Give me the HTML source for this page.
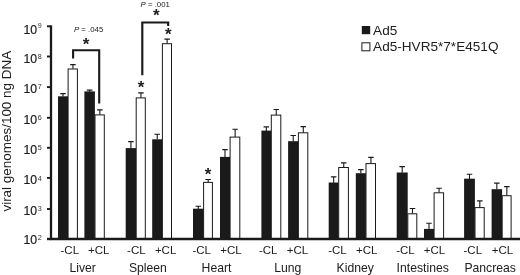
<!DOCTYPE html><html><head><meta charset="utf-8"><style>
html,body{margin:0;padding:0;background:#fff;}svg{display:block;filter:grayscale(1);}text{font-family:"Liberation Sans",sans-serif;fill:#202020;}
</style></head><body>
<svg width="520" height="275" viewBox="0 0 520 275">
<rect width="520" height="275" fill="#fff"/>
<rect x="58.00" y="96.30" width="10.00" height="142.70" fill="#1a1a1a"/>
<path d="M63.00 96.60V93.60M60.25 93.60H65.75" stroke="#1a1a1a" stroke-width="1.1" fill="none"/>
<rect x="68.10" y="69.00" width="9.30" height="170.50" fill="#fff" stroke="#1a1a1a" stroke-width="1"/>
<path d="M72.95 68.80V64.60M70.20 64.60H75.70" stroke="#1a1a1a" stroke-width="1.1" fill="none"/>
<rect x="84.40" y="91.40" width="10.50" height="147.60" fill="#1a1a1a"/>
<path d="M89.65 91.70V90.10M86.90 90.10H92.40" stroke="#1a1a1a" stroke-width="1.1" fill="none"/>
<rect x="95.00" y="114.90" width="9.30" height="124.60" fill="#fff" stroke="#1a1a1a" stroke-width="1"/>
<path d="M99.85 114.70V109.90M97.10 109.90H102.60" stroke="#1a1a1a" stroke-width="1.1" fill="none"/>
<rect x="125.70" y="148.10" width="10.40" height="90.90" fill="#1a1a1a"/>
<path d="M130.90 148.40V141.60M128.15 141.60H133.65" stroke="#1a1a1a" stroke-width="1.1" fill="none"/>
<rect x="136.20" y="97.90" width="9.10" height="141.60" fill="#fff" stroke="#1a1a1a" stroke-width="1"/>
<path d="M140.95 97.70V92.90M138.20 92.90H143.70" stroke="#1a1a1a" stroke-width="1.1" fill="none"/>
<rect x="152.20" y="139.30" width="10.10" height="99.70" fill="#1a1a1a"/>
<path d="M157.25 139.60V134.30M154.50 134.30H160.00" stroke="#1a1a1a" stroke-width="1.1" fill="none"/>
<rect x="162.40" y="43.70" width="9.10" height="195.80" fill="#fff" stroke="#1a1a1a" stroke-width="1"/>
<path d="M167.15 43.50V39.10M164.40 39.10H169.90" stroke="#1a1a1a" stroke-width="1.1" fill="none"/>
<rect x="193.00" y="208.70" width="10.50" height="30.30" fill="#1a1a1a"/>
<path d="M198.25 209.00V206.20M195.50 206.20H201.00" stroke="#1a1a1a" stroke-width="1.1" fill="none"/>
<rect x="203.60" y="182.40" width="8.80" height="57.10" fill="#fff" stroke="#1a1a1a" stroke-width="1"/>
<path d="M208.20 182.20V179.50M205.45 179.50H210.95" stroke="#1a1a1a" stroke-width="1.1" fill="none"/>
<rect x="220.00" y="156.90" width="10.00" height="82.10" fill="#1a1a1a"/>
<path d="M225.00 157.20V149.60M222.25 149.60H227.75" stroke="#1a1a1a" stroke-width="1.1" fill="none"/>
<rect x="230.10" y="137.10" width="9.70" height="102.40" fill="#fff" stroke="#1a1a1a" stroke-width="1"/>
<path d="M235.15 136.90V129.30M232.40 129.30H237.90" stroke="#1a1a1a" stroke-width="1.1" fill="none"/>
<rect x="261.40" y="130.60" width="9.80" height="108.40" fill="#1a1a1a"/>
<path d="M266.30 130.90V126.90M263.55 126.90H269.05" stroke="#1a1a1a" stroke-width="1.1" fill="none"/>
<rect x="271.30" y="115.10" width="9.50" height="124.40" fill="#fff" stroke="#1a1a1a" stroke-width="1"/>
<path d="M276.25 114.90V109.50M273.50 109.50H279.00" stroke="#1a1a1a" stroke-width="1.1" fill="none"/>
<rect x="288.10" y="141.20" width="10.20" height="97.80" fill="#1a1a1a"/>
<path d="M293.20 141.50V135.50M290.45 135.50H295.95" stroke="#1a1a1a" stroke-width="1.1" fill="none"/>
<rect x="298.40" y="132.80" width="9.40" height="106.70" fill="#fff" stroke="#1a1a1a" stroke-width="1"/>
<path d="M303.30 132.60V126.60M300.55 126.60H306.05" stroke="#1a1a1a" stroke-width="1.1" fill="none"/>
<rect x="328.70" y="182.50" width="9.90" height="56.50" fill="#1a1a1a"/>
<path d="M333.65 182.80V176.90M330.90 176.90H336.40" stroke="#1a1a1a" stroke-width="1.1" fill="none"/>
<rect x="338.70" y="167.50" width="9.70" height="72.00" fill="#fff" stroke="#1a1a1a" stroke-width="1"/>
<path d="M343.75 167.30V162.90M341.00 162.90H346.50" stroke="#1a1a1a" stroke-width="1.1" fill="none"/>
<rect x="355.80" y="173.20" width="10.10" height="65.80" fill="#1a1a1a"/>
<path d="M360.85 173.50V169.60M358.10 169.60H363.60" stroke="#1a1a1a" stroke-width="1.1" fill="none"/>
<rect x="366.00" y="163.60" width="9.50" height="75.90" fill="#fff" stroke="#1a1a1a" stroke-width="1"/>
<path d="M370.95 163.40V157.40M368.20 157.40H373.70" stroke="#1a1a1a" stroke-width="1.1" fill="none"/>
<rect x="396.70" y="172.50" width="11.00" height="66.50" fill="#1a1a1a"/>
<path d="M402.20 172.80V166.60M399.45 166.60H404.95" stroke="#1a1a1a" stroke-width="1.1" fill="none"/>
<rect x="407.80" y="213.80" width="9.00" height="25.70" fill="#fff" stroke="#1a1a1a" stroke-width="1"/>
<path d="M412.50 213.60V208.50M409.75 208.50H415.25" stroke="#1a1a1a" stroke-width="1.1" fill="none"/>
<rect x="424.00" y="228.90" width="10.00" height="10.10" fill="#1a1a1a"/>
<path d="M429.00 229.20V223.20M426.25 223.20H431.75" stroke="#1a1a1a" stroke-width="1.1" fill="none"/>
<rect x="434.10" y="192.80" width="9.50" height="46.70" fill="#fff" stroke="#1a1a1a" stroke-width="1"/>
<path d="M439.05 192.60V188.30M436.30 188.30H441.80" stroke="#1a1a1a" stroke-width="1.1" fill="none"/>
<rect x="464.10" y="178.70" width="10.80" height="60.30" fill="#1a1a1a"/>
<path d="M469.50 179.00V174.20M466.75 174.20H472.25" stroke="#1a1a1a" stroke-width="1.1" fill="none"/>
<rect x="475.00" y="207.60" width="9.20" height="31.90" fill="#fff" stroke="#1a1a1a" stroke-width="1"/>
<path d="M479.80 207.40V200.90M477.05 200.90H482.55" stroke="#1a1a1a" stroke-width="1.1" fill="none"/>
<rect x="491.60" y="189.20" width="10.50" height="49.80" fill="#1a1a1a"/>
<path d="M496.85 189.50V183.10M494.10 183.10H499.60" stroke="#1a1a1a" stroke-width="1.1" fill="none"/>
<rect x="502.20" y="195.70" width="8.90" height="43.80" fill="#fff" stroke="#1a1a1a" stroke-width="1"/>
<path d="M506.85 195.50V186.60M504.10 186.60H509.60" stroke="#1a1a1a" stroke-width="1.1" fill="none"/>
<path d="M51.0 25.4V240" stroke="#1a1a1a" stroke-width="2.3" fill="none"/>
<path d="M49.9 239.0H520" stroke="#1a1a1a" stroke-width="2.4" fill="none"/>
<path d="M47.0 26.30H51" stroke="#1a1a1a" stroke-width="1.9"/>
<text transform="translate(23.5,34.00) scale(0.895,1)" font-size="13.7" stroke="#1a1a1a" stroke-width="0.2">10<tspan dx="0.7" dy="-5.70" font-size="8.0" fill="#333" stroke="none">9</tspan></text>
<path d="M47.0 56.50H51" stroke="#1a1a1a" stroke-width="1.9"/>
<text transform="translate(23.5,63.40) scale(0.895,1)" font-size="13.7" stroke="#1a1a1a" stroke-width="0.2">10<tspan dx="0.7" dy="-4.50" font-size="8.0" fill="#333" stroke="none">8</tspan></text>
<path d="M47.0 87.10H51" stroke="#1a1a1a" stroke-width="1.9"/>
<text transform="translate(23.5,93.40) scale(0.895,1)" font-size="13.7" stroke="#1a1a1a" stroke-width="0.2">10<tspan dx="0.7" dy="-4.90" font-size="8.0" fill="#333" stroke="none">7</tspan></text>
<path d="M47.0 117.80H51" stroke="#1a1a1a" stroke-width="1.9"/>
<text transform="translate(23.5,124.00) scale(0.895,1)" font-size="13.7" stroke="#1a1a1a" stroke-width="0.2">10<tspan dx="0.7" dy="-3.90" font-size="8.0" fill="#333" stroke="none">6</tspan></text>
<path d="M47.0 147.80H51" stroke="#1a1a1a" stroke-width="1.9"/>
<text transform="translate(23.5,154.30) scale(0.895,1)" font-size="13.7" stroke="#1a1a1a" stroke-width="0.2">10<tspan dx="0.7" dy="-4.30" font-size="8.0" fill="#333" stroke="none">5</tspan></text>
<path d="M47.0 177.90H51" stroke="#1a1a1a" stroke-width="1.9"/>
<text transform="translate(23.5,184.30) scale(0.895,1)" font-size="13.7" stroke="#1a1a1a" stroke-width="0.2">10<tspan dx="0.7" dy="-3.30" font-size="8.0" fill="#333" stroke="none">4</tspan></text>
<path d="M47.0 209.00H51" stroke="#1a1a1a" stroke-width="1.9"/>
<text transform="translate(23.5,215.10) scale(0.895,1)" font-size="13.7" stroke="#1a1a1a" stroke-width="0.2">10<tspan dx="0.7" dy="-3.70" font-size="8.0" fill="#333" stroke="none">3</tspan></text>
<path d="M47.0 239.00H51" stroke="#1a1a1a" stroke-width="2.4"/>
<text transform="translate(23.5,244.30) scale(0.895,1)" font-size="13.7" stroke="#1a1a1a" stroke-width="0.2">10<tspan dx="0.7" dy="-4.10" font-size="8.0" fill="#333" stroke="none">2</tspan></text>
<text transform="translate(10.7,131.2) rotate(-90) scale(1.044,1)" text-anchor="middle" font-size="12.9">viral genomes/100 ng DNA</text>
<text x="60.50" y="254.1" font-size="11.5">-CL</text>
<text x="88.00" y="254.1" font-size="11.5">+CL</text>
<text x="82.70" y="271.9" text-anchor="middle" font-size="12.2">Liver</text>
<text x="127.10" y="254.1" font-size="11.5">-CL</text>
<text x="154.90" y="254.1" font-size="11.5">+CL</text>
<text x="147.90" y="271.9" text-anchor="middle" font-size="12.2">Spleen</text>
<text x="192.40" y="254.1" font-size="11.5">-CL</text>
<text x="220.20" y="254.1" font-size="11.5">+CL</text>
<text x="216.50" y="271.9" text-anchor="middle" font-size="12.2">Heart</text>
<text x="258.90" y="254.1" font-size="11.5">-CL</text>
<text x="286.70" y="254.1" font-size="11.5">+CL</text>
<text x="287.80" y="271.9" text-anchor="middle" font-size="12.2">Lung</text>
<text x="328.20" y="254.1" font-size="11.5">-CL</text>
<text x="356.00" y="254.1" font-size="11.5">+CL</text>
<text x="355.25" y="271.9" text-anchor="middle" font-size="12.2">Kidney</text>
<text x="396.20" y="254.1" font-size="11.5">-CL</text>
<text x="423.70" y="254.1" font-size="11.5">+CL</text>
<text x="422.70" y="271.9" text-anchor="middle" font-size="12.2">Intestines</text>
<text x="463.50" y="254.1" font-size="11.5">-CL</text>
<text x="491.80" y="254.1" font-size="11.5">+CL</text>
<text x="490.20" y="271.9" text-anchor="middle" font-size="12.2">Pancreas</text>
<rect x="361.8" y="26.0" width="8.4" height="8.2" fill="#1a1a1a"/>
<rect x="361.9" y="42.8" width="8.0" height="8.0" fill="#fff" stroke="#1a1a1a" stroke-width="1"/>
<text transform="translate(373.1,34.9) scale(1.088,1)" font-size="12.5">Ad5</text>
<text transform="translate(373.1,51.3) scale(1.088,1)" font-size="12.5">Ad5-HVR5*7*E451Q</text>
<path d="M73.1 58.4V50.3H99.2V103.6" stroke="#1a1a1a" stroke-width="2.1" fill="none"/>
<path d="M142.3 75.2V22.45H168.2V25.9" stroke="#1a1a1a" stroke-width="2.15" fill="none"/>
<text x="74" y="32" font-size="7.8" fill="#666"><tspan font-style="italic">P</tspan> = .045</text>
<text x="140.6" y="6.8" font-size="7.8" fill="#666"><tspan font-style="italic">P</tspan> = .001</text>
<text x="86.0" y="49.7" text-anchor="middle" font-size="17" font-weight="bold">*</text>
<text x="156.4" y="21.0" text-anchor="middle" font-size="17" font-weight="bold">*</text>
<text x="168.2" y="40.0" text-anchor="middle" font-size="17" font-weight="bold">*</text>
<text x="141.1" y="93.0" text-anchor="middle" font-size="17" font-weight="bold">*</text>
<text x="208.1" y="180.0" text-anchor="middle" font-size="17" font-weight="bold">*</text>
</svg></body></html>
